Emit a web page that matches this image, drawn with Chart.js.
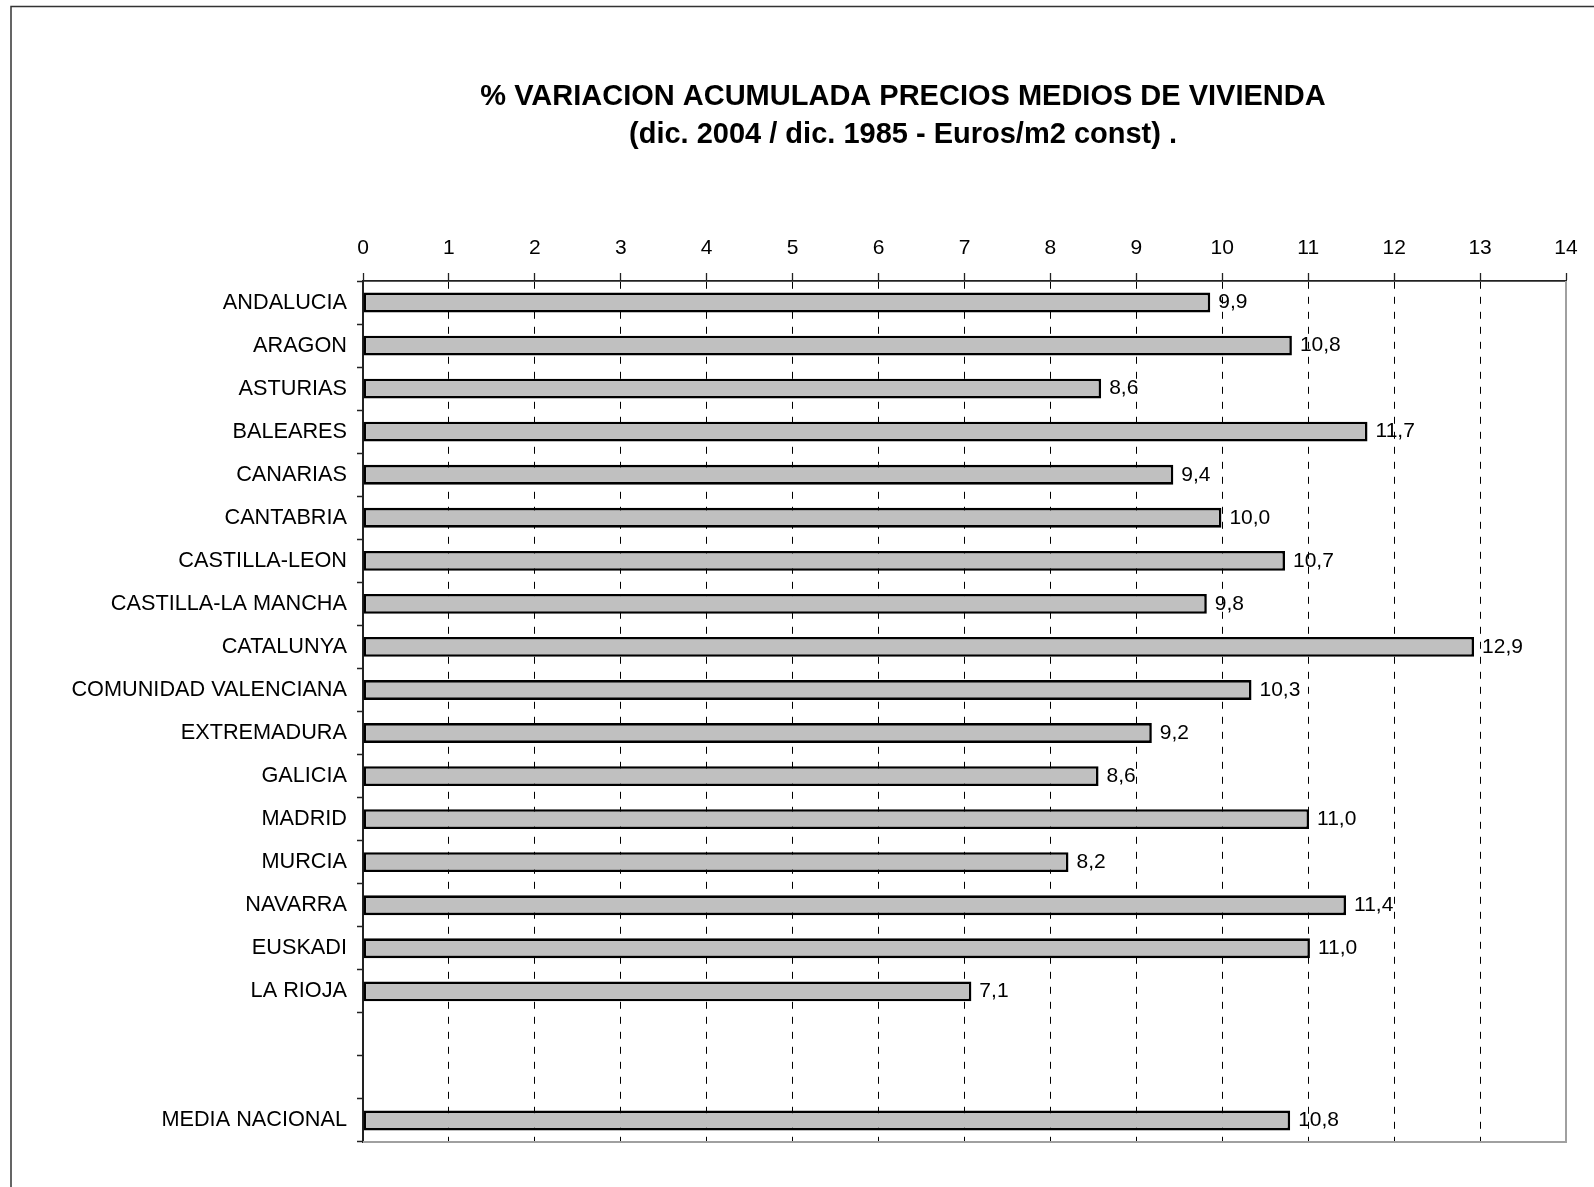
<!DOCTYPE html>
<html>
<head>
<meta charset="utf-8">
<script src="https://cdn.jsdelivr.net/npm/chart.js@4"></script>
<style>
  html, body { margin: 0; padding: 0; background: #fff; overflow: hidden; }
  #wrap { position: relative; width: 1594px; height: 1187px; }
</style>
</head>
<body>
<div id="wrap"><canvas id="c"></canvas></div>
<script>
const titleLines = [
  "% VARIACION ACUMULADA PRECIOS MEDIOS DE VIVIENDA",
  "(dic. 2004 / dic. 1985 - Euros/m2 const) ."
];
const categories = [
  "ANDALUCIA", "ARAGON", "ASTURIAS", "BALEARES", "CANARIAS", "CANTABRIA",
  "CASTILLA-LEON", "CASTILLA-LA MANCHA", "CATALUNYA", "COMUNIDAD VALENCIANA",
  "EXTREMADURA", "GALICIA", "MADRID", "MURCIA", "NAVARRA", "EUSKADI",
  "LA RIOJA", "", "", "MEDIA NACIONAL"
];
const values = [
  9.86, 10.81, 8.59, 11.69, 9.43, 9.99,
  10.73, 9.82, 12.93, 10.34,
  9.18, 8.56, 11.01, 8.21, 11.44, 11.02,
  7.08, null, null, 10.79
];
const xMin = 0;
const xMax = 14;
const xStep = 1;

const FONT = "'Liberation Sans', Arial, Helvetica, sans-serif";

const framePlugin = {
  id: 'frameAndTitle',
  beforeDraw(chart) {
    const ctx = chart.ctx;
    ctx.save();
    ctx.strokeStyle = '#333';
    ctx.lineWidth = 1.5;
    ctx.beginPath();
    ctx.moveTo(11, chart.height);
    ctx.lineTo(11, 6.5);
    ctx.lineTo(chart.width, 6.5);
    ctx.stroke();
    ctx.fillStyle = '#000';
    ctx.font = "bold 29px " + FONT;
    ctx.textAlign = 'center';
    ctx.textBaseline = 'middle';
    ctx.fillText(titleLines[0], 903, 97);
    ctx.fillText(titleLines[1], 903, 135);
    ctx.restore();
  },
  afterDatasetsDraw(chart) {
    const ctx = chart.ctx;
    const a = chart.chartArea;
    ctx.save();
    ctx.strokeStyle = '#a0a0a0';
    ctx.lineWidth = 2;
    ctx.beginPath();
    ctx.moveTo(a.left, a.bottom);
    ctx.lineTo(a.right, a.bottom);
    ctx.lineTo(a.right, a.top);
    ctx.stroke();
    const meta = chart.getDatasetMeta(0);
    ctx.fillStyle = '#000';
    ctx.font = "21px " + FONT;
    ctx.textAlign = 'left';
    ctx.textBaseline = 'middle';
    meta.data.forEach((el, i) => {
      const v = values[i];
      if (v === null || v === undefined) return;
      const txt = v.toFixed(1).replace('.', ',');
      ctx.fillText(txt, el.x + 8, el.y);
    });
    ctx.restore();
  }
};

new Chart(document.getElementById('c'), {
  type: 'bar',
  data: {
    labels: categories,
    datasets: [{
      data: values,
      backgroundColor: '#c0c0c0',
      borderColor: '#000',
      borderWidth: 2.6,
      borderSkipped: false,
      barPercentage: 0.46,
      categoryPercentage: 1.0
    }]
  },
  options: {
    indexAxis: 'y',
    responsive: true,
    maintainAspectRatio: false,
    animation: false,
    events: [],
    layout: { padding: { left: 0, right: 28, top: 150, bottom: 45 } },
    plugins: {
      legend: { display: false },
      title: { display: false },
      tooltip: { enabled: false }
    },
    scales: {
      x: {
        position: 'top',
        min: xMin,
        max: xMax,
        afterFit(scale) { scale.height = 131; },
        ticks: {
          stepSize: xStep,
          color: '#000',
          font: { family: FONT, size: 21 },
          padding: 12,
          maxRotation: 0
        },
        grid: {
          color: '#000',
          lineWidth: 1,
          drawTicks: true,
          tickLength: 8,
          tickColor: '#222',
          tickWidth: 1.3
        },
        border: { display: true, color: '#222', width: 1.8, dash: [7, 8] }
      },
      y: {
        afterFit(scale) { scale.width = 363; },
        ticks: {
          autoSkip: false,
          color: '#000',
          font: { family: FONT, size: 21.7 },
          padding: 10
        },
        grid: {
          drawOnChartArea: false,
          drawTicks: true,
          tickLength: 6,
          tickColor: '#222',
          tickWidth: 1.5,
          offset: true
        },
        border: { display: true, color: '#222', width: 2 }
      }
    }
  },
  plugins: [framePlugin]
});
</script>
</body>
</html>
